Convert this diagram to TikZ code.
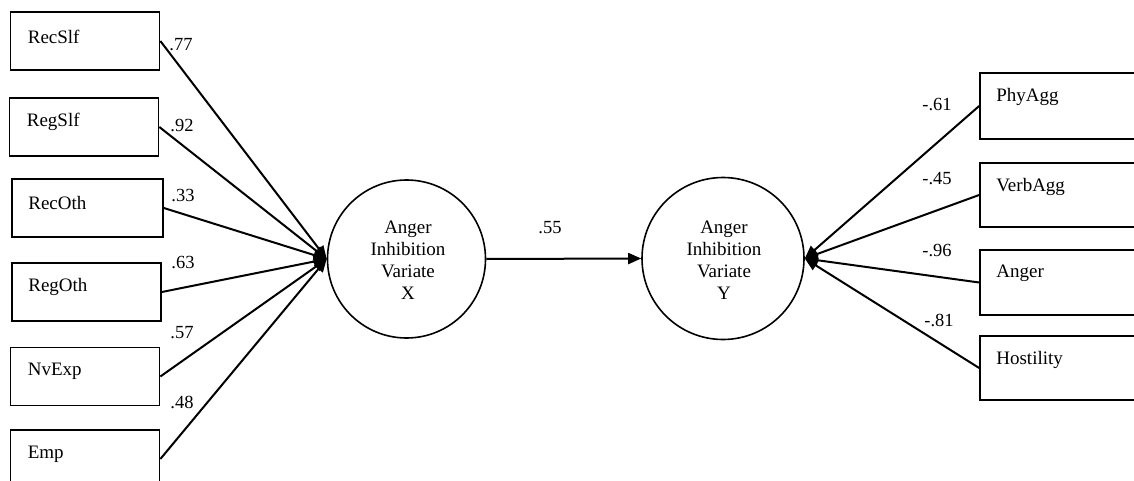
\documentclass[tikz,border=0pt]{standalone}
\usepackage{fontspec}
\setmainfont{Liberation Serif}
\usetikzlibrary{arrows.meta}
\begin{document}
\begin{tikzpicture}[x=1pt,y=-1pt,
  lbox/.style={draw, line width=1.7pt, minimum width=149pt, minimum height=58pt, inner sep=0pt},
  rbox/.style={draw, line width=1.7pt, minimum width=170pt, minimum height=65pt, inner sep=0pt},
  boxtxt/.style={anchor=west, inner sep=0pt, font=\fontsize{19}{22}\selectfont},
  coef/.style={inner sep=0pt, font=\fontsize{18.5}{22}\selectfont},
  latent/.style={circle, draw, line width=1.6pt, inner sep=0pt, align=center,
    font=\fontsize{19}{22}\selectfont},
  arr/.style={line width=2pt, -{Triangle[length=13pt,width=11pt]}}]
\useasboundingbox (0,0) rectangle (1134,481);
\clip (0,0) rectangle (1134,481);
% left boxes
\node[lbox] (recslf) at (85,41) {};
\node[lbox] (regslf) at (84,127) {};
\node[lbox, minimum width=151pt] (recoth) at (87.5,208) {};
\node[lbox] (regoth) at (86.5,292) {};
\node[lbox] (nvexp) at (85,376.5) {};
\node[lbox] (emp) at (85,459) {};
\node[boxtxt] (trecslf) at ([xshift=18pt,yshift=4pt]recslf.west) {RecSlf};
\node[boxtxt] (tregslf) at ([xshift=18pt,yshift=5pt]regslf.west) {RegSlf};
\node[boxtxt] (trecoth) at ([xshift=17pt,yshift=5pt]recoth.west) {RecOth};
\node[boxtxt] (tregoth) at ([xshift=17pt,yshift=5pt]regoth.west) {RegOth};
\node[boxtxt] (tnvexp) at ([xshift=18pt,yshift=5pt]nvexp.west) {NvExp};
\node[boxtxt] (temp) at ([xshift=18pt,yshift=5pt]emp.west) {Emp};
% right boxes
\node[rbox, minimum height=66pt] (phy) at (1065,106) {};
\node[rbox, minimum height=64pt] (verb) at (1065,195) {};
\node[rbox] (ang) at (1065,282.5) {};
\node[rbox, minimum height=64pt] (host) at (1065,368) {};
\node[boxtxt] (tphy) at ([xshift=17pt,yshift=9pt]phy.west) {PhyAgg};
\node[boxtxt] (tverb) at ([xshift=17pt,yshift=8pt]verb.west) {VerbAgg};
\node[boxtxt] (tang) at ([xshift=17pt,yshift=9pt]ang.west) {Anger};
\node[boxtxt] (thost) at ([xshift=17pt,yshift=8pt]host.west) {Hostility};
% latent variables
\node[latent, minimum size=158pt] (X) at (406.5,259) {};
\node[latent, minimum size=162pt] (Y) at (723,258.5) {};
\node[latent, draw=none] (tX) at (408,260) {Anger\\Inhibition\\Variate\\X};
\node[latent, draw=none] (tY) at (724,260) {Anger\\Inhibition\\Variate\\Y};
% paths
\draw[arr] (recslf.east) -- (X.west);
\draw[arr] (regslf.east) -- (X.west);
\draw[arr] (recoth.east) -- (X.west);
\draw[arr] (regoth.east) -- (X.west);
\draw[arr] (nvexp.east) -- (X.west);
\draw[arr] (emp.east) -- (X.west);
\draw[arr] (X.east) -- (Y.west);
\draw[arr] (phy.west) -- (Y.east);
\draw[arr] (verb.west) -- (Y.east);
\draw[arr] (ang.west) -- (Y.east);
\draw[arr] (host.west) -- (Y.east);
% coefficients
\node[coef] (c1) at (181,45) {.77};
\node[coef] (c2) at (182,126) {.92};
\node[coef] (c3) at (183,196) {.33};
\node[coef] (c4) at (183,263) {.63};
\node[coef] (c5) at (182,333) {.57};
\node[coef] (c6) at (182,402) {.48};
\node[coef] (c7) at (550,228) {.55};
\node[coef] (c8) at (937,105) {-.61};
\node[coef] (c9) at (937,179) {-.45};
\node[coef] (c10) at (937,251) {-.96};
\node[coef] (c11) at (939,320) {-.81};
\end{tikzpicture}
\end{document}
